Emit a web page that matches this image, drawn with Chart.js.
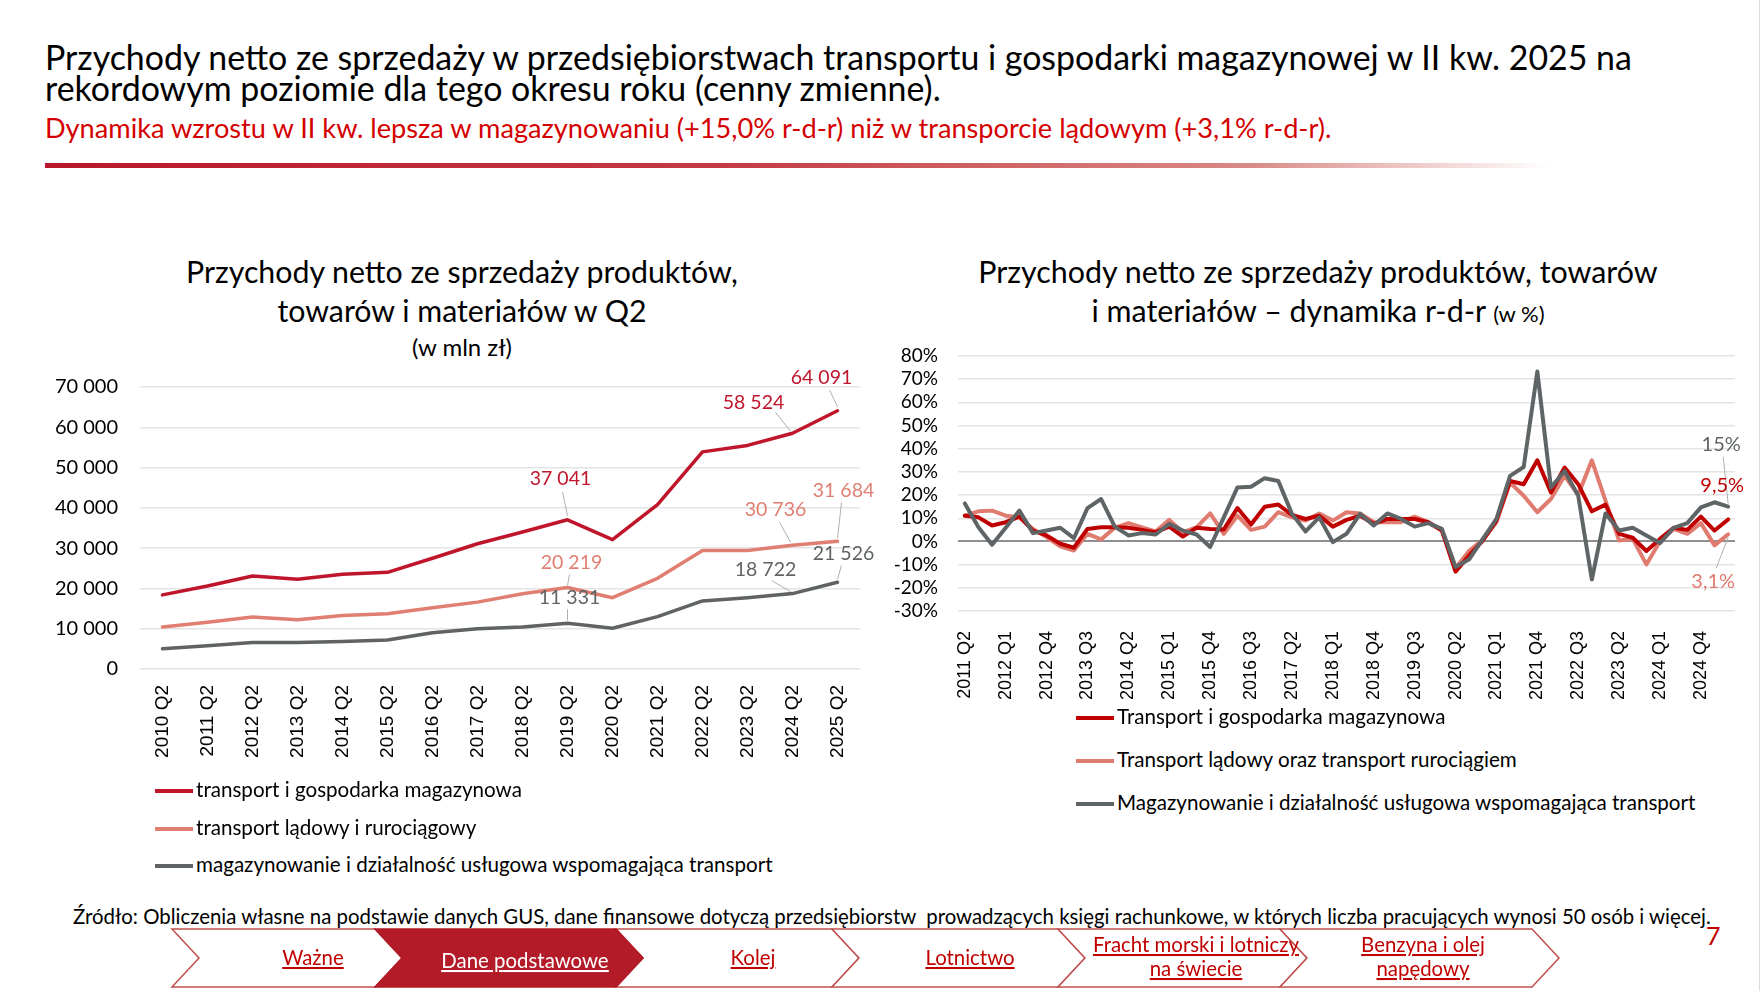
<!DOCTYPE html>
<html>
<head>
<meta charset="utf-8">
<script src="https://cdn.jsdelivr.net/npm/chart.js@4.4.1/dist/chart.umd.min.js"></script>
<style>
body{margin:0;width:1762px;height:991px;position:relative;background:#fff;font-family:Lato,"Open Sans",sans-serif;overflow:hidden;color:#000}
.abs{position:absolute;white-space:nowrap}
canvas{position:absolute}
.leg{position:absolute;font-size:20.6px;line-height:20px;white-space:nowrap}
.leg span.ln{display:inline-block;width:38px;height:4px;vertical-align:middle;margin-right:3px;position:relative;top:-1px}
</style>
</head>
<body>

<div class="abs" style="left:1759px;top:0;width:1px;height:991px;background:#dcdcdc"></div>

<div class="abs" style="left:45px;top:42px;font-size:33.9px;line-height:31px">Przychody netto ze sprzedaży w przedsiębiorstwach transportu i gospodarki magazynowej w II kw. 2025 na<br>rekordowym poziomie dla tego okresu roku (cenny zmienne).</div>
<div class="abs" style="left:45px;top:113px;font-size:27.2px;line-height:30px;color:#d40000">Dynamika wzrostu w II kw. lepsza w magazynowaniu (+15,0% r-d-r) niż w transporcie lądowym (+3,1% r-d-r).</div>
<div class="abs" style="left:45px;top:163px;width:1505px;height:5px;background:linear-gradient(to right,#b8172b 0%,#c43a44 45%,#d98a86 80%,rgba(255,255,255,0) 100%)"></div>

<div class="abs" style="left:112px;width:700px;top:252px;text-align:center;font-size:30.3px;line-height:39px">Przychody netto ze sprzedaży produktów,<br>towarów i materiałów w Q2</div>
<div class="abs" style="left:362px;width:200px;top:333px;text-align:center;font-size:24px;line-height:28px">(w mln zł)</div>

<div class="abs" style="left:918px;width:800px;top:252px;text-align:center;font-size:30.4px;line-height:39px">Przychody netto ze sprzedaży produktów, towarów<br>i materiałów – dynamika r-d-r <span style="font-size:22px">(w %)</span></div>

<canvas id="lewy" width="880" height="420" style="left:0;top:360px"></canvas>
<canvas id="prawy" width="882" height="380" style="left:880px;top:330px"></canvas>

<div id="legLewy"></div>
<div id="legPrawy"></div>

<div class="abs" style="left:73px;top:904px;font-size:20.4px;line-height:24px">Źródło: Obliczenia własne na podstawie danych GUS, dane finansowe dotyczą przedsiębiorstw&nbsp; prowadzących księgi rachunkowe, w których liczba pracujących wynosi 50 osób i więcej.</div>
<div class="abs" style="left:1706px;top:921px;font-size:25px;line-height:28px;color:#c00000">7</div>

<svg class="abs" style="left:0;top:0" width="1762" height="991">
  <g stroke="#c0504d" stroke-width="1.5" fill="#fff">
    <polygon points="172,929 375,929 402,958 375,987 172,987 199,958"/>
    <polygon points="616,929 832,929 859,958 832,987 616,987 643,958"/>
    <polygon points="832,929 1058,929 1085,958 1058,987 832,987 859,958"/>
    <polygon points="1058,929 1280,929 1307,958 1280,987 1058,987 1085,958"/>
    <polygon points="1280,929 1532,929 1559,958 1532,987 1280,987 1307,958"/>
    <polygon points="375,929 616,929 643,958 616,987 375,987 402,958" fill="#b31b29" stroke="#b31b29"/>
  </g>
  <g font-family="Lato" font-size="20.4" text-anchor="middle" fill="#c00000" style="text-decoration:underline">
    <text x="313" y="965">Ważne</text>
    <text x="525" y="968" fill="#fff" style="text-decoration:underline;fill:#fff">Dane podstawowe</text>
    <text x="753" y="965">Kolej</text>
    <text x="970" y="965">Lotnictwo</text>
    <text x="1196" y="952">Fracht morski i lotniczy</text>
    <text x="1196" y="976">na świecie</text>
    <text x="1423" y="952">Benzyna i olej</text>
    <text x="1423" y="976">napędowy</text>
  </g>
</svg>

<script>
// --- dane: wykres lewy (Q2, mln zł)
const lataQ2 = ['2010 Q2','2011 Q2','2012 Q2','2013 Q2','2014 Q2','2015 Q2','2016 Q2','2017 Q2','2018 Q2','2019 Q2','2020 Q2','2021 Q2','2022 Q2','2023 Q2','2024 Q2','2025 Q2'];
const przychodyTransportMag = [18400, 20600, 23100, 22300, 23500, 24000, 27500, 31100, 34000, 37041, 32100, 40800, 53900, 55500, 58524, 64091];
const przychodyLadowy = [10400, 11600, 12900, 12200, 13300, 13700, 15200, 16600, 18700, 20219, 17700, 22500, 29400, 29400, 30736, 31684];
const przychodyMagazyn = [5000, 5800, 6600, 6600, 6800, 7200, 9000, 10000, 10400, 11331, 10100, 13000, 16900, 17700, 18722, 21526];
const nazwyLewy = ['transport i gospodarka magazynowa', 'transport lądowy i rurociągowy', 'magazynowanie i działalność usługowa wspomagająca transport'];

// --- dane: wykres prawy (dynamika r-d-r, %)
const kwartaly = ['2011 Q2','2011 Q3','2011 Q4','2012 Q1','2012 Q2','2012 Q3','2012 Q4','2013 Q1','2013 Q2','2013 Q3','2013 Q4',
  '2014 Q1','2014 Q2','2014 Q3','2014 Q4','2015 Q1','2015 Q2','2015 Q3','2015 Q4','2016 Q1','2016 Q2','2016 Q3','2016 Q4',
  '2017 Q1','2017 Q2','2017 Q3','2017 Q4','2018 Q1','2018 Q2','2018 Q3','2018 Q4','2019 Q1','2019 Q2','2019 Q3','2019 Q4',
  '2020 Q1','2020 Q2','2020 Q3','2020 Q4','2021 Q1','2021 Q2','2021 Q3','2021 Q4','2022 Q1','2022 Q2','2022 Q3','2022 Q4',
  '2023 Q1','2023 Q2','2023 Q3','2023 Q4','2024 Q1','2024 Q2','2024 Q3','2024 Q4','2025 Q1','2025 Q2'];
const dynTransportMag = [11.1, 10.4, 6.9, 8.3, 10.7, 4.7, 2.6, -1.0, -2.7, 5.4,
  6.1, 6.1, 5.9, 5.0, 4.0, 6.4, 2.1, 5.9, 5.4, 5.2,
  14.4, 7.3, 15.0, 15.9, 11.4, 9.7, 11.1, 6.4, 9.3, 11.1,
  7.6, 9.7, 9.7, 9.7, 8.3, 4.7, -13.0, -6.0, 0.4, 9.0,
  26.1, 24.7, 35.0, 21.1, 31.9, 24.7, 13.0, 15.9, 3.3, 1.6,
  -4.1, 1.1, 5.9, 5.0, 10.7, 4.7, 9.5];
const dynLadowy = [11.1, 13.0, 13.3, 11.1, 10.4, 5.4, 1.9, -2.1, -3.9, 3.3,
  0.9, 5.9, 7.9, 6.1, 4.3, 9.3, 4.0, 6.1, 12.1, 3.3,
  11.1, 5.0, 6.4, 12.6, 10.4, 9.0, 12.1, 9.0, 12.6, 12.1,
  8.3, 8.3, 8.3, 10.7, 8.3, 4.7, -11.5, -4.0, 0.7, 8.3,
  25.4, 19.7, 12.6, 18.3, 28.3, 20.1, 35.0, 17.6, 0.4, 1.1,
  -9.9, 0.1, 5.4, 3.3, 7.9, -1.7, 3.1];
const dynMagazyn = [16.4, 6.1, -1.4, 5.9, 13.3, 3.6, 4.7, 5.9, 1.4, 14.4,
  18.3, 6.4, 2.6, 3.6, 3.0, 7.6, 4.7, 3.0, -2.4, 10.4,
  23.3, 23.6, 27.3, 26.1, 11.9, 4.3, 10.4, -0.3, 3.3, 11.9,
  6.9, 12.1, 9.7, 6.4, 7.9, 5.4, -11.0, -7.7, 1.1, 9.7,
  28.3, 32.1, 73.3, 23.3, 30.4, 19.7, -16.4, 12.1, 4.7, 5.9,
  2.6, -0.7, 5.9, 7.9, 14.7, 16.9, 15];
const nazwyPrawy = ['Transport i gospodarka magazynowa', 'Transport lądowy oraz transport rurociągiem', 'Magazynowanie i działalność usługowa wspomagająca transport'];

const kolLewy = ['#c0162c', '#e07f71', '#5f6365'];
const kolPrawy = ['#c00000', '#e07b70', '#5f6466'];

function tys(v) { return String(v).replace(/\B(?=(\d{3})+(?!\d))/g, ' '); }
function proc(v) { return String(v).replace('.', ',') + '%'; }

// etykiety danych z odnośnikami
const etykiety = {
  id: 'etykiety',
  afterDatasetsDraw(chart, args, opts) {
    const ctx = chart.ctx;
    (opts.items || []).forEach(function(it) {
      const pt = chart.getDatasetMeta(it.ds).data[it.i];
      const val = chart.data.datasets[it.ds].data[it.i];
      const tx = pt.x + it.dx, ty = pt.y + it.dy;
      ctx.save();
      if (it.leader) {
        ctx.strokeStyle = '#b0b0b0';
        ctx.lineWidth = 1;
        ctx.beginPath();
        ctx.moveTo(tx + it.leader[0], ty + it.leader[1]);
        ctx.lineTo(pt.x - (it.end ? it.end[0] : 0), pt.y - (it.end ? it.end[1] : 0));
        ctx.stroke();
      }
      ctx.font = opts.font;
      ctx.fillStyle = opts.colors[it.ds];
      ctx.textAlign = 'center';
      ctx.textBaseline = 'middle';
      ctx.fillText(opts.format(val), tx, ty);
      ctx.restore();
    });
  }
};

Chart.defaults.font.family = 'Lato';
Chart.defaults.color = '#000';

function seria(label, data, kol, order, w) {
  return { label: label, data: data, borderColor: kol, backgroundColor: kol, borderWidth: w,
    borderJoinStyle: 'round', borderCapStyle: 'round',
    pointRadius: 0, tension: 0, fill: false, order: order };
}

// niewidoczne kreski podziałki robią odstęp etykiet od osi (ticks.padding powiększa też górny margines)
const osY = { drawTicks: true, tickLength: 20, tickColor: 'rgba(0,0,0,0)' };

new Chart(document.getElementById('lewy'), {
  type: 'line',
  data: {
    labels: lataQ2,
    datasets: [
      seria(nazwyLewy[0], przychodyTransportMag, kolLewy[0], 0, 3.5),
      seria(nazwyLewy[1], przychodyLadowy, kolLewy[1], 1, 3.5),
      seria(nazwyLewy[2], przychodyMagazyn, kolLewy[2], 2, 3.5)
    ]
  },
  options: {
    responsive: false, animation: false, devicePixelRatio: 1,
    layout: { padding: { top: 27, right: 20, left: 0, bottom: 0 } },
    plugins: {
      legend: { display: false }, tooltip: { enabled: false },
      etykiety: {
        font: '19.5px Lato', colors: kolLewy, format: tys,
        items: [
          { ds: 0, i: 15, dx: -16, dy: -33, leader: [8, 12], end: [0, 4] },
          { ds: 0, i: 14, dx: -39, dy: -31, leader: [22, 10], end: [2, 2] },
          { ds: 0, i: 9, dx: -7, dy: -41, leader: [2, 13], end: [0, 4] },
          { ds: 1, i: 15, dx: 6, dy: -51, leader: [-2, 12], end: [0, 3] },
          { ds: 1, i: 14, dx: -17, dy: -35, leader: [4, 12], end: [2, 3] },
          { ds: 1, i: 9, dx: 4, dy: -25, leader: [-2, 12], end: [0, 2] },
          { ds: 2, i: 15, dx: 6, dy: -29, leader: [-2, 12], end: [0, 3] },
          { ds: 2, i: 14, dx: -27, dy: -24, leader: [6, 11], end: [2, 2] },
          { ds: 2, i: 9, dx: 2, dy: -26, leader: [-2, 12], end: [0, 3] }
        ]
      }
    },
    scales: {
      x: {
        offset: true,
        grid: { display: false },
        border: { display: false },
        ticks: { autoSkip: false, minRotation: 90, maxRotation: 90, padding: 8,
          font: { family: 'Liberation Sans', size: 19 }, color: '#000' },
        afterFit: function(s) { s.height = 111; }
      },
      y: {
        min: 0, max: 70000,
        grid: Object.assign({ color: '#e4e4e4', lineWidth: 1.5 }, osY),
        border: { display: false },
        ticks: { stepSize: 10000, autoSkip: false, padding: 2, font: { size: 20 }, callback: function(v) { return tys(v); } },
        afterFit: function(s) { s.width = 140; }
      }
    }
  },
  plugins: [etykiety]
});

new Chart(document.getElementById('prawy'), {
  type: 'line',
  data: {
    labels: kwartaly,
    datasets: [
      seria(nazwyPrawy[0], dynTransportMag, kolPrawy[0], 1, 4),
      seria(nazwyPrawy[1], dynLadowy, kolPrawy[1], 2, 4),
      seria(nazwyPrawy[2], dynMagazyn, kolPrawy[2], 0, 4)
    ]
  },
  options: {
    responsive: false, animation: false, devicePixelRatio: 1,
    layout: { padding: { top: 26, right: 27, left: 0, bottom: 0 } },
    plugins: {
      legend: { display: false }, tooltip: { enabled: false },
      etykiety: {
        font: '20px Lato', colors: kolPrawy, format: proc,
        items: [
          { ds: 2, i: 56, dx: -7, dy: -62, leader: [2, 12], end: [0, 3] },
          { ds: 0, i: 56, dx: -6, dy: -34 },
          { ds: 1, i: 56, dx: -15, dy: 47, leader: [3, -13], end: [0, -3] }
        ]
      }
    },
    scales: {
      x: {
        offset: true,
        grid: { display: false },
        border: { display: false },
        ticks: { autoSkip: false, minRotation: 90, maxRotation: 90, padding: 12,
          font: { family: 'Liberation Sans', size: 18 }, color: '#000',
          callback: function(v, i) { return i % 3 === 0 ? kwartaly[i] : ''; } },
        afterFit: function(s) { s.height = 99; }
      },
      y: {
        min: -30, max: 80,
        grid: Object.assign({
          color: function(c) { return c.tick && c.tick.value === 0 ? '#8e8e8e' : '#e4e4e4'; },
          lineWidth: function(c) { return c.tick && c.tick.value === 0 ? 2 : 1.5; }
        }, osY, { tickLength: 18 }),
        border: { display: false },
        ticks: { stepSize: 10, autoSkip: false, padding: 2, font: { size: 19 }, callback: function(v) { return v + '%'; } },
        afterFit: function(s) { s.width = 78; }
      }
    }
  },
  plugins: [etykiety]
});

// legendy
function legenda(id, nazwy, kolory, left, tops) {
  const box = document.getElementById(id);
  nazwy.forEach(function(n, k) {
    const d = document.createElement('div');
    d.className = 'leg';
    d.style.left = left + 'px';
    d.style.top = (tops[k] - 10) + 'px';
    d.innerHTML = '<span class="ln" style="background:' + kolory[k] + '"></span>' + n;
    box.appendChild(d);
  });
}
legenda('legLewy', nazwyLewy, kolLewy, 155, [789, 827, 864]);
legenda('legPrawy', nazwyPrawy, kolPrawy, 1076, [716, 759, 802]);
</script>
</body>
</html>
